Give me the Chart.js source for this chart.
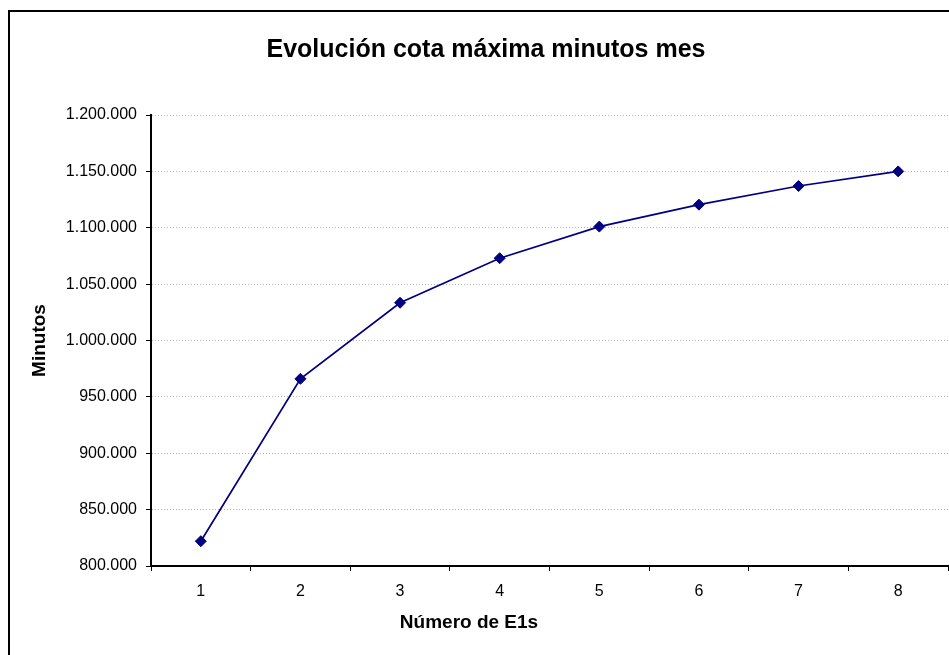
<!DOCTYPE html>
<html lang="es">

<head>
    <meta charset="UTF-8">
    <title>Evolución cota máxima minutos mes</title>
    <script src="https://cdn.jsdelivr.net/npm/chart.js"></script>
    <style>
        body { margin: 0; background: #fff; }
        #chart { display: block; }
    </style>
</head>

<body>
    <canvas id="chart" width="949" height="655"></canvas>

    <script>
        // Data
        const categories = ['1', '2', '3', '4', '5', '6', '7', '8'];
        const minutos = [822000, 966000, 1033500, 1073000, 1101000, 1120500, 1137000, 1150000];
        const yMin = 800000;
        const yMax = 1200000;
        const yStep = 50000;
        const xTitle = 'Número de E1s';

        const fontFamily = "'Liberation Sans', Arial, sans-serif";
        const navy = '#000080';

        // thousands separated with dots, like the original
        function formatMiles(v) {
            return String(Math.round(v)).replace(/\B(?=(\d{3})+(?!\d))/g, '.');
        }

        // outer chart frame (runs off the right and bottom edge)
        // + x axis title, which sits left of the plot centre in the original
        const framePlugin = {
            id: 'frame',
            beforeDraw(chart) {
                const ctx = chart.ctx;
                ctx.save();
                ctx.strokeStyle = '#000';
                ctx.lineWidth = 2;
                ctx.strokeRect(9, 11, chart.width + 20, chart.height + 20);
                ctx.restore();
            },
            afterDraw(chart) {
                const ctx = chart.ctx;
                ctx.save();
                ctx.fillStyle = '#000';
                ctx.font = 'bold 19px ' + fontFamily;
                ctx.textAlign = 'center';
                ctx.textBaseline = 'middle';
                ctx.fillText(xTitle, 469, 623);
                ctx.restore();
            }
        };

        new Chart(document.getElementById('chart'), {
            type: 'line',
            data: {
                labels: categories,
                datasets: [{
                    label: 'Minutos',
                    data: minutos,
                    borderColor: navy,
                    backgroundColor: navy,
                    borderWidth: 1.7,
                    pointStyle: 'rectRot',
                    pointRadius: 5.5,
                    pointBorderWidth: 1,
                    pointBackgroundColor: navy,
                    pointBorderColor: navy,
                    tension: 0
                }]
            },
            options: {
                responsive: false,
                animation: false,
                layout: { autoPadding: false, padding: { left: 24, right: 1, top: 0, bottom: 0 } },
                plugins: {
                    legend: { display: false },
                    tooltip: { enabled: false },
                    title: {
                        display: true,
                        text: 'Evolución cota máxima minutos mes',
                        color: '#000',
                        font: { family: fontFamily, size: 25, weight: 'bold', lineHeight: 1.2 },
                        padding: { top: 35, bottom: 50 }
                    }
                },
                scales: {
                    x: {
                        offset: true,
                        afterFit(scale) {
                            scale.height = 89;
                            scale.paddingLeft = 0;
                            scale.paddingRight = 0;
                        },
                        grid: {
                            offset: true,
                            drawOnChartArea: false,
                            drawTicks: true,
                            tickLength: 5,
                            tickColor: '#000',
                            tickWidth: 1
                        },
                        border: { display: true, color: '#000', width: 2 },
                        ticks: {
                            color: '#000',
                            padding: 11,
                            maxRotation: 0,
                            font: { family: fontFamily, size: 16 }
                        }
                    },
                    y: {
                        min: yMin,
                        max: yMax,
                        afterFit(scale) { scale.width = 127; },
                        grid: {
                            color: '#b4b4b4',
                            lineWidth: 1,
                            drawTicks: true,
                            tickLength: 5,
                            tickColor: '#000',
                            tickWidth: 1,
                            tickBorderDash: []
                        },
                        border: { display: true, color: '#000', width: 2, dash: [1, 2] },
                        ticks: {
                            stepSize: yStep,
                            color: '#000',
                            padding: 9,
                            font: { family: fontFamily, size: 16 },
                            callback: (v) => formatMiles(v)
                        },
                        title: {
                            display: true,
                            text: 'Minutos',
                            color: '#000',
                            font: { family: fontFamily, size: 19, weight: 'bold', lineHeight: 1.2 },
                            padding: { top: 4.6, bottom: 0 }
                        }
                    }
                }
            },
            plugins: [framePlugin]
        });
    </script>
</body>

</html>
